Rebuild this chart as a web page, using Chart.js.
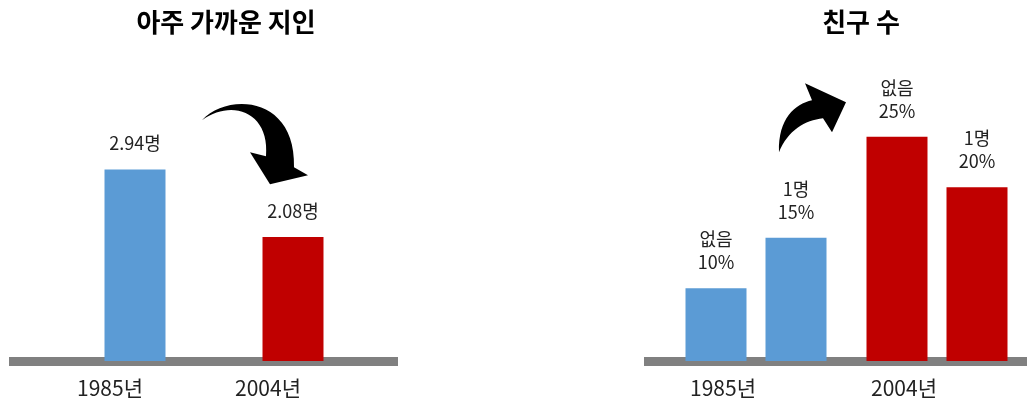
<!DOCTYPE html>
<html lang="ko">
<head>
<meta charset="utf-8">
<script src="https://cdn.jsdelivr.net/npm/chart.js@4"></script>
<style>
  html, body { margin: 0; padding: 0; background: #fff; overflow: hidden; }
  .box { position: absolute; top: 0; height: 403px; }
  #leftBox { left: 0; width: 452px; }
  #rightBox { left: 644px; width: 434px; }
</style>
</head>
<body>
<div class="box" id="leftBox"><canvas id="leftChart"></canvas></div>
<div class="box" id="rightBox"><canvas id="rightChart"></canvas></div>
<script>
// data
const years = ['1985년', '2004년'];
const closePeople = [2.94, 2.08];          // 아주 가까운 지인 (명)
const friendGroups = ['없음', '1명'];
const noFriends = [10, 25];                // 친구 없음 (%)
const oneFriend = [15, 20];                // 친구 1명 (%)

const BLUE = '#5B9BD5';
const RED = '#C00000';
const GRAY = '#808080';
const FONT = "'Noto Sans CJK KR', 'Noto Sans', sans-serif";

// thick grey base line, drawn under the bars
const baseLine = {
  id: 'baseLine',
  beforeDatasetsDraw(chart, args, opts) {
    const { ctx, chartArea } = chart;
    const y = chart.scales.y.bottom + 0.5;
    ctx.save();
    ctx.fillStyle = GRAY;
    ctx.fillRect(chartArea.left - opts.extLeft, y - 4.5,
      chartArea.right - chartArea.left + opts.extLeft + opts.extRight, 9);
    ctx.restore();
  }
};

// value text above each bar
const barText = {
  id: 'barText',
  afterDatasetsDraw(chart, args, opts) {
    const { ctx } = chart;
    ctx.save();
    ctx.font = '18px ' + FONT;
    ctx.fillStyle = '#222';
    ctx.textAlign = 'center';
    ctx.textBaseline = 'middle';
    chart.data.datasets.forEach((ds, di) => {
      chart.getDatasetMeta(di).data.forEach((bar, i) => {
        const lines = opts.format(ds, ds.data[i]);
        lines.forEach((t, li) => {
          const y = bar.y - 26 - (lines.length - 1 - li) * 23;
          ctx.fillText(t, bar.x, y);
        });
      });
    });
    ctx.restore();
  }
};

// curved black arrow, points relative to the second category at chart top
const curvedArrow = {
  id: 'curvedArrow',
  afterDraw(chart, args, opts) {
    const { ctx, chartArea } = chart;
    const ax = chart.scales.x.getPixelForValue(1);
    const ay = chartArea.top;
    const p = opts.path;
    ctx.save();
    ctx.translate(ax, ay);
    ctx.fillStyle = '#000';
    ctx.beginPath();
    p.forEach(s => {
      if (s[0] === 'M') ctx.moveTo(s[1], s[2]);
      else if (s[0] === 'L') ctx.lineTo(s[1], s[2]);
      else ctx.bezierCurveTo(s[1], s[2], s[3], s[4], s[5], s[6]);
    });
    ctx.closePath();
    ctx.fill();
    ctx.restore();
  }
};

// invisible side axes only reserve room, so the title stays centred on the canvas
function spacer(position, width) {
  return {
    type: 'linear',
    position: position,
    display: true,
    grid: { display: false, drawTicks: false },
    border: { display: false },
    ticks: { display: false },
    afterFit: axis => { axis.width = width; }
  };
}

function baseOptions(title, yMin, yMax, labelOffset, gapLeft, gapRight) {
  return {
    responsive: true,
    maintainAspectRatio: false,
    animation: false,
    layout: { padding: 0 },
    plugins: {
      legend: { display: false },
      tooltip: { enabled: false },
      title: {
        display: true,
        text: title,
        color: '#000',
        font: { family: FONT, size: 26, weight: 'bold' },
        padding: { top: 7, bottom: 48 }
      }
    },
    scales: {
      x: {
        grid: { display: false, drawTicks: false },
        border: { display: false },
        afterFit: axis => { axis.height = 42; },
        ticks: {
          color: '#222',
          font: { family: FONT, size: 21 },
          padding: 14,
          labelOffset: labelOffset
        }
      },
      y: Object.assign(spacer('left', gapLeft), { min: yMin, max: yMax }),
      yRight: spacer('right', gapRight)
    }
  };
}

const leftOpts = baseOptions('아주 가까운 지인', 0.5, 4, -25, 56, 80);
leftOpts.plugins.baseLine = { extLeft: 47, extRight: 26 };
leftOpts.plugins.barText = { format: (ds, v) => [v.toFixed(2) + '명'] };
leftOpts.plugins.curvedArrow = {
  path: [
    ['M', -91, 34],
    ['C', -65, 6, 3, 10, 1, 81],
    ['L', 15, 89],
    ['L', -23, 98],
    ['L', -43, 66],
    ['L', -27, 70],
    ['C', -23, 26, -61, 12, -91, 34]
  ]
};

new Chart(document.getElementById('leftChart'), {
  type: 'bar',
  data: {
    labels: years,
    datasets: [{
      label: '아주 가까운 지인',
      data: closePeople,
      backgroundColor: [BLUE, RED],
      categoryPercentage: 1,
      barPercentage: 0.386
    }]
  },
  options: leftOpts,
  plugins: [baseLine, barText, curvedArrow]
});

const rightOpts = baseOptions('친구 수', 2.8, 30, -33, 21.5, 50.5);
rightOpts.plugins.baseLine = { extLeft: 21.5, extRight: 60 };
rightOpts.plugins.barText = { format: (ds, v) => [ds.label, v + '%'] };
rightOpts.plugins.curvedArrow = {
  path: [
    ['M', -158, 66],
    ['C', -159, 32, -142, 18, -125, 14],
    ['L', -132, -3],
    ['L', -91, 16],
    ['L', -105, 46],
    ['L', -114, 32],
    ['C', -132, 34, -149, 44, -158, 66]
  ]
};

new Chart(document.getElementById('rightChart'), {
  type: 'bar',
  data: {
    labels: years,
    datasets: [
      {
        label: friendGroups[0],
        data: noFriends,
        backgroundColor: [BLUE, RED],
        categoryPercentage: 0.884,
        barPercentage: 0.7625
      },
      {
        label: friendGroups[1],
        data: oneFriend,
        backgroundColor: [BLUE, RED],
        categoryPercentage: 0.884,
        barPercentage: 0.7625
      }
    ]
  },
  options: rightOpts,
  plugins: [baseLine, barText, curvedArrow]
});
</script>
</body>
</html>
